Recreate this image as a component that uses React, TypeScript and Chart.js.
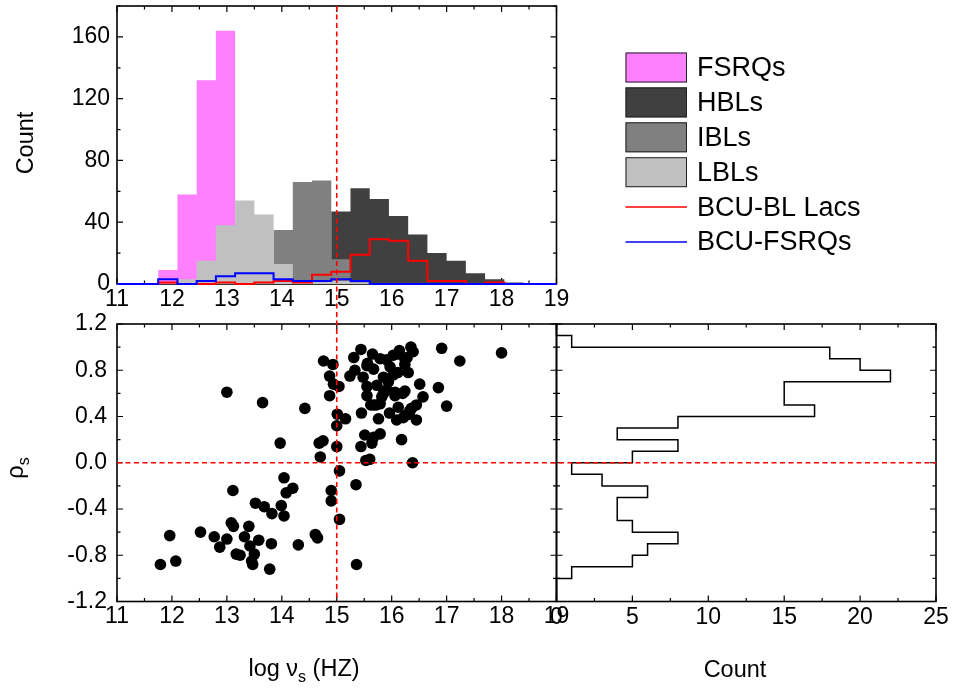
import React, { useEffect, useRef } from "react";
import { Chart, registerables } from "chart.js";

Chart.register(...registerables);

const PAGE_W = 953;
const PAGE_H = 690;
const FONT = "'Liberation Sans', Arial, Helvetica, sans-serif";
const TICK_SIZE = 23;

// ---- Distribution of log nu_s, 0.35-dex bins (left edges) ----
const NU_BIN = 0.35;
const nuBinLeft = [11.75, 12.1, 12.45, 12.8, 13.15, 13.5, 13.85, 14.2, 14.55, 14.9, 15.25, 15.6, 15.95, 16.3, 16.65, 17.0, 17.35, 17.7, 18.05];
const fsrqCounts = [9, 58, 132, 164, 0, 0, 0, 0, 0, 0, 0, 0, 0, 0, 0, 0, 0, 0, 0];
const hblCounts = [0, 0, 0, 0, 0, 0, 0, 0, 0, 47, 62, 55, 44, 32, 20, 15, 7, 3, 1];
const iblCounts = [0, 0, 0, 0, 0, 0, 35, 66, 67, 16, 2, 0, 0, 0, 0, 0, 0, 0, 0];
const lblCounts = [0, 3, 15, 38, 54, 45, 13, 2, 2, 2, 1, 0, 0, 0, 0, 0, 0, 0, 0];
const bcuBllCounts = [1, 0, 0, 1, 0, 1, 2, 1, 6, 8, 19, 29, 28, 15, 2, 2, 0, 1, 0];
const bcuFsrqCounts = [3, 0, 2, 5, 7, 7, 3, 2, 2, 3, 2, 0, 0, 0, 0, 0, 0, 0, 0];

// ---- Spearman rho_s against log nu_s ----
const logNu = [
  11.79, 11.96, 12.07, 12.52, 12.77, 12.87, 13.0, 13.0, 13.08, 13.12,
  13.11, 13.17, 13.24, 13.32, 13.4, 13.42, 13.45, 13.47, 13.5, 13.52,
  13.58, 13.65, 13.68, 13.78, 13.81, 13.82, 13.97, 13.99, 14.04, 14.04,
  14.08, 14.2, 14.3, 14.42, 14.61, 14.65, 14.7, 14.68, 14.75, 14.76,
  14.87, 14.87, 14.9, 14.9, 14.93, 14.94, 15.0, 15.0, 15.01, 15.04,
  15.05, 15.05, 15.16, 15.35, 15.36,
  15.44, 15.65, 15.31, 16.14, 16.35, 15.79, 15.91, 16.03, 16.24, 15.55,
  15.67, 15.97, 15.33, 15.24, 16.3, 15.48, 15.85, 16.03, 15.55, 15.73,
  15.94, 16.51, 15.55, 15.85, 16.06, 16.24, 16.57, 15.67, 15.79, 16.12,
  16.45, 15.45, 15.76, 15.96, 16.09, 16.25, 16.45, 16.33, 15.51, 15.67,
  15.79, 15.64, 16.18, 15.44, 15.53, 15.6, 16.38,
  16.39, 16.12, 16.28, 15.56, 16.24, 16.11, 15.91, 16.2, 15.82, 15.72,
  15.62, 16.36, 16.32, 16.21, 16.06,
  16.91, 16.85, 17.0, 17.24, 18.0,
];
const rho = [
  -0.88, -0.63, -0.85, -0.6, -0.64, -0.73, -0.66, 0.61, -0.52, -0.55,
  -0.24, -0.79, -0.8, -0.64, -0.55, -0.72, -0.85, -0.88, -0.79, -0.35,
  -0.67, 0.52, -0.38, -0.92, -0.7, -0.44, 0.17, -0.37, -0.13, -0.46,
  -0.26, -0.22, -0.71, 0.47, -0.62, -0.65, 0.05, 0.17, 0.19, 0.88,
  0.58, 0.75, -0.24, -0.33, 0.85, 0.68, 0.14, 0.32, 0.42, 0.66,
  -0.07, -0.49, 0.38, -0.19, -0.88,
  0.98, 0.94, 0.91, 0.97, 1.0, 0.9, 0.89, 0.93, 0.9, 0.84,
  0.81, 0.83, 0.8, 0.75, 0.78, 0.74, 0.74, 0.76, 0.66, 0.67,
  0.7, 0.68, 0.58, 0.6, 0.61, 0.62, 0.57, 0.5, 0.51, 0.48,
  0.5, 0.43, 0.38, 0.43, 0.37, 0.41, 0.37, 0.45, 0.24, 0.22,
  0.25, 0.17, 0.2, 0.14, 0.02, 0.03, 0.0,
  0.96, 0.94, 0.91, 0.86, 0.85, 0.78, 0.63, 0.6, 0.57, 0.5,
  0.5, 0.47, 0.42, 0.39, 0.58,
  0.99, 0.65, 0.49, 0.88, 0.95,
];

// ---- Distribution of rho_s, 0.1 bins (lower edges) ----
const RHO_BIN = 0.1;
const rhoBinLow = [-1.2, -1.1, -1.0, -0.9, -0.8, -0.7, -0.6, -0.5, -0.4, -0.3, -0.2, -0.1, 0.0, 0.1, 0.2, 0.3, 0.4, 0.5, 0.6, 0.7, 0.8, 0.9, 1.0, 1.1];
const rhoCounts = [0, 0, 1, 5, 6, 8, 5, 4, 4, 6, 3, 1, 5, 8, 4, 8, 17, 15, 15, 22, 20, 18, 1, 0];

// Reference lines
const NU_DIVIDE = 15;
const RHO_ZERO = 0;

// Panel boxes in page pixels
const PANEL = {
  top: { left: 117, right: 556.5, top: 6, bottom: 284 },
  scatter: { left: 117, right: 556.5, top: 324, bottom: 601.5 },
  side: { left: 556.5, right: 936, top: 324, bottom: 601.5 },
};

type Box = { left: number; right: number; top: number; bottom: number };
// The left and bottom axes take up all the space up to the page edge,
// so the plot area lands on the panel box
const padFor = (b: Box) => ({ left: 0, top: b.top, right: PAGE_W - b.right, bottom: 0 });

// Histogram outline points: a flat top for every bin, joined by vertical edges
function histSteps(lefts: number[], counts: number[], width: number, from?: number, to?: number) {
  const pts: { x: number; y: number }[] = [];
  if (from !== undefined) pts.push({ x: from, y: 0 }, { x: lefts[0], y: 0 });
  lefts.forEach((l, i) => {
    pts.push({ x: l, y: counts[i] }, { x: l + width, y: counts[i] });
  });
  if (to !== undefined) {
    const end = lefts[lefts.length - 1] + width;
    pts.push({ x: end, y: 0 }, { x: to, y: 0 });
  }
  return pts;
}

// Horizontal histogram: count along x, rho along y
function sideSteps(lows: number[], counts: number[], width: number) {
  const pts: { x: number; y: number }[] = [];
  lows.forEach((lo, i) => {
    pts.push({ x: counts[i], y: lo }, { x: counts[i], y: lo + width });
  });
  return pts;
}

function axis(box: Box, min: number, max: number, step: number, show: boolean, pad: number, fmt?: (v: number) => string) {
  return {
    type: "linear" as const,
    min,
    max,
    grid: { display: false, drawTicks: false },
    border: { display: false },
    ticks: {
      display: show,
      stepSize: step,
      includeBounds: false,
      autoSkip: false,
      maxRotation: 0,
      padding: pad,
      color: "#000",
      font: { family: FONT, size: TICK_SIZE },
      callback: (v: any) => (fmt ? fmt(Number(v)) : String(v)),
    },
    afterFit: (s: any) => {
      if (s.isHorizontal()) s.height = PAGE_H - box.bottom;
      else s.width = box.left;
      // labels may overhang the plot edges; keep the plot box fixed
      s.paddingTop = 0;
      s.paddingBottom = 0;
      s.paddingLeft = 0;
      s.paddingRight = 0;
    },
  };
}

// Frame with inward major/minor ticks on all four sides
const framePlugin = {
  id: "panelFrame",
  beforeDatasetsDraw(chart: any, _a: any, o: any) {
    const { ctx, chartArea: a, scales } = chart;
    const xs = scales.x;
    const ys = scales.y;
    ctx.save();
    ctx.strokeStyle = "#000";
    ctx.lineWidth = 1.2;
    ctx.beginPath();
    const walk = (min: number, max: number, major: number, minor: number, f: (v: number, len: number) => void) => {
      const n = Math.round((max - min) / minor);
      for (let k = 0; k <= n; k++) {
        const v = min + k * minor;
        const q = v / major;
        const isMajor = Math.abs(q - Math.round(q)) < 1e-6;
        f(v, isMajor ? 6 : 3.5);
      }
    };
    walk(xs.min, xs.max, o.xMajor, o.xMinor, (v, len) => {
      const p = xs.getPixelForValue(v);
      ctx.moveTo(p, a.bottom);
      ctx.lineTo(p, a.bottom - len);
      ctx.moveTo(p, a.top);
      ctx.lineTo(p, a.top + len);
    });
    walk(ys.min, ys.max, o.yMajor, o.yMinor, (v, len) => {
      const p = ys.getPixelForValue(v);
      ctx.moveTo(a.left, p);
      ctx.lineTo(a.left + len, p);
      ctx.moveTo(a.right, p);
      ctx.lineTo(a.right - len, p);
    });
    ctx.stroke();
    ctx.lineWidth = 1.6;
    ctx.strokeRect(a.left, a.top, a.right - a.left, a.bottom - a.top);
    ctx.restore();
  },
};

type Run = { t: string; sub?: boolean };
function drawRuns(ctx: CanvasRenderingContext2D, runs: Run[], cx: number, baseY: number, size: number, rotate: boolean) {
  ctx.save();
  ctx.translate(cx, baseY);
  if (rotate) ctx.rotate(-Math.PI / 2);
  const subSize = size * 0.68;
  const widths = runs.map((r) => {
    ctx.font = `${r.sub ? subSize : size}px ${FONT}`;
    return ctx.measureText(r.t).width;
  });
  const total = widths.reduce((s, w) => s + w, 0);
  let x = -total / 2;
  ctx.textAlign = "left";
  ctx.textBaseline = "alphabetic";
  ctx.fillStyle = "#000";
  runs.forEach((r, i) => {
    ctx.font = `${r.sub ? subSize : size}px ${FONT}`;
    ctx.fillText(r.t, x, r.sub ? size * 0.27 : 0);
    x += widths[i];
  });
  ctx.restore();
}

// Axis titles placed around the panels
const titlePlugin = {
  id: "axisTitles",
  afterDraw(chart: any, _a: any, o: any) {
    (o.items || []).forEach((it: any) => drawRuns(chart.ctx, it.runs, it.x, it.y, it.size, !!it.rotate));
  },
};

// Legend listing the histogram classes
const legendPlugin = {
  id: "classLegend",
  afterDraw(chart: any, _a: any, o: any) {
    const { ctx } = chart;
    ctx.save();
    ctx.font = `${o.size}px ${FONT}`;
    ctx.textBaseline = "middle";
    ctx.textAlign = "left";
    chart.data.datasets.forEach((ds: any, i: number) => {
      const cy = o.y + i * o.gap;
      if (ds.fill) {
        ctx.fillStyle = ds.backgroundColor;
        ctx.fillRect(o.x, cy - o.boxH / 2, o.boxW, o.boxH);
        ctx.strokeStyle = "#222";
        ctx.lineWidth = 1;
        ctx.strokeRect(o.x + 0.5, cy - o.boxH / 2 + 0.5, o.boxW - 1, o.boxH - 1);
      } else {
        ctx.strokeStyle = ds.borderColor;
        ctx.lineWidth = 1.5;
        ctx.beginPath();
        ctx.moveTo(o.x, cy);
        ctx.lineTo(o.x + o.boxW, cy);
        ctx.stroke();
      }
      ctx.fillStyle = "#000";
      ctx.fillText(ds.label, o.x + o.boxW + 10, cy + 1);
    });
    ctx.restore();
  },
};

// Dashed reference lines at log nu_s = 15 and rho_s = 0
const guidePlugin = {
  id: "guideLines",
  afterDatasetsDraw(chart: any) {
    const { ctx, chartArea: a, scales } = chart;
    const px = scales.x.getPixelForValue(NU_DIVIDE);
    const py = scales.y.getPixelForValue(RHO_ZERO);
    ctx.save();
    ctx.strokeStyle = "#ff0000";
    ctx.lineWidth = 1.6;
    ctx.setLineDash([5, 3.5]);
    ctx.beginPath();
    ctx.moveTo(px, PANEL.top.top);
    ctx.lineTo(px, a.bottom);
    ctx.stroke();
    ctx.beginPath();
    ctx.moveTo(a.left, py);
    ctx.lineTo(PANEL.side.right, py);
    ctx.stroke();
    ctx.restore();
  },
};

const base = {
  animation: false as const,
  responsive: false,
  devicePixelRatio: 1,
  events: [] as any[],
};

function filled(label: string, counts: number[], color: string, order: number) {
  return {
    label,
    data: histSteps(nuBinLeft, counts, NU_BIN),
    showLine: true,
    fill: "origin",
    backgroundColor: color,
    borderColor: color,
    borderWidth: 0,
    pointRadius: 0,
    order,
  };
}
function outline(label: string, counts: number[], color: string, order: number) {
  return {
    label,
    data: histSteps(nuBinLeft, counts, NU_BIN, 11, 19),
    showLine: true,
    fill: false,
    backgroundColor: color,
    borderColor: color,
    borderWidth: 2,
    pointRadius: 0,
    clip: false,
    order,
  };
}

function topConfig(): any {
  return {
    type: "scatter",
    data: {
      datasets: [
        filled("FSRQs", fsrqCounts, "#ff80ff", 4),
        filled("HBLs", hblCounts, "#404040", 5),
        filled("IBLs", iblCounts, "#808080", 3),
        filled("LBLs", lblCounts, "#c0c0c0", 2),
        outline("BCU-BL Lacs", bcuBllCounts, "#ff0000", 1),
        outline("BCU-FSRQs", bcuFsrqCounts, "#0000ff", 0),
      ],
    },
    options: {
      ...base,
      layout: { padding: padFor(PANEL.top) },
      plugins: {
        legend: { display: false },
        tooltip: { enabled: false },
        panelFrame: { xMajor: 1, xMinor: 0.5, yMajor: 40, yMinor: 20 },
        classLegend: { x: 625.5, y: 67.5, gap: 34.9, boxW: 61.5, boxH: 30, size: 27 },
        axisTitles: { items: [{ runs: [{ t: "Count" }], x: 33, y: 143, size: 23.5, rotate: true }] },
      },
      scales: {
        x: axis(PANEL.top, 11, 19, 1, true, 1.5),
        y: axis(PANEL.top, 0, 180, 40, true, 7),
      },
    },
    plugins: [framePlugin, legendPlugin, titlePlugin],
  };
}

function sideConfig(): any {
  return {
    type: "scatter",
    data: {
      datasets: [
        {
          label: "rho_s",
          data: sideSteps(rhoBinLow, rhoCounts, RHO_BIN),
          showLine: true,
          fill: false,
          borderColor: "#000",
          borderWidth: 1.5,
          pointRadius: 0,
          clip: false,
        },
      ],
    },
    options: {
      ...base,
      layout: { padding: padFor(PANEL.side) },
      plugins: {
        legend: { display: false },
        tooltip: { enabled: false },
        panelFrame: { xMajor: 5, xMinor: 2.5, yMajor: 0.4, yMinor: 0.2 },
        axisTitles: { items: [{ runs: [{ t: "Count" }], x: 735, y: 677, size: 23.5 }] },
      },
      scales: {
        x: axis(PANEL.side, 0, 25, 5, true, 2.5),
        y: axis(PANEL.side, -1.2, 1.2, 0.4, false, 0),
      },
    },
    plugins: [framePlugin, titlePlugin],
  };
}

function scatterConfig(): any {
  return {
    type: "scatter",
    data: {
      datasets: [
        {
          label: "sources",
          data: logNu.map((x, i) => ({ x, y: rho[i] })),
          pointRadius: 5.8,
          pointBackgroundColor: "#000",
          pointBorderWidth: 0,
          backgroundColor: "#000",
          borderColor: "#000",
        },
      ],
    },
    options: {
      ...base,
      layout: { padding: padFor(PANEL.scatter) },
      plugins: {
        legend: { display: false },
        tooltip: { enabled: false },
        panelFrame: { xMajor: 1, xMinor: 0.5, yMajor: 0.4, yMinor: 0.2 },
        axisTitles: {
          items: [
            { runs: [{ t: "log ν" }, { t: "s", sub: true }, { t: " (HZ)" }], x: 304, y: 676, size: 23.5 },
            { runs: [{ t: "ρ" }, { t: "s", sub: true }], x: 23, y: 468, size: 23.5, rotate: true },
          ],
        },
      },
      scales: {
        x: axis(PANEL.scatter, 11, 19, 1, true, 1.5),
        y: axis(PANEL.scatter, -1.2, 1.2, 0.4, true, 10, (v) => (Math.abs(v) < 1e-9 ? 0 : v).toFixed(1)),
      },
    },
    plugins: [framePlugin, guidePlugin, titlePlugin],
  };
}

function PanelChart({ make }: { make: () => any }) {
  const ref = useRef<HTMLCanvasElement | null>(null);
  useEffect(() => {
    if (!ref.current) return;
    const chart = new Chart(ref.current, make());
    return () => chart.destroy();
  }, [make]);
  return (
    <canvas
      ref={ref}
      width={PAGE_W}
      height={PAGE_H}
      style={{ position: "absolute", left: 0, top: 0, width: PAGE_W, height: PAGE_H }}
    />
  );
}

export default function App() {
  return (
    <div style={{ position: "absolute", left: 0, top: 0, width: PAGE_W, height: PAGE_H, background: "#fff" }}>
      <PanelChart make={topConfig} />
      <PanelChart make={sideConfig} />
      <PanelChart make={scatterConfig} />
    </div>
  );
}
